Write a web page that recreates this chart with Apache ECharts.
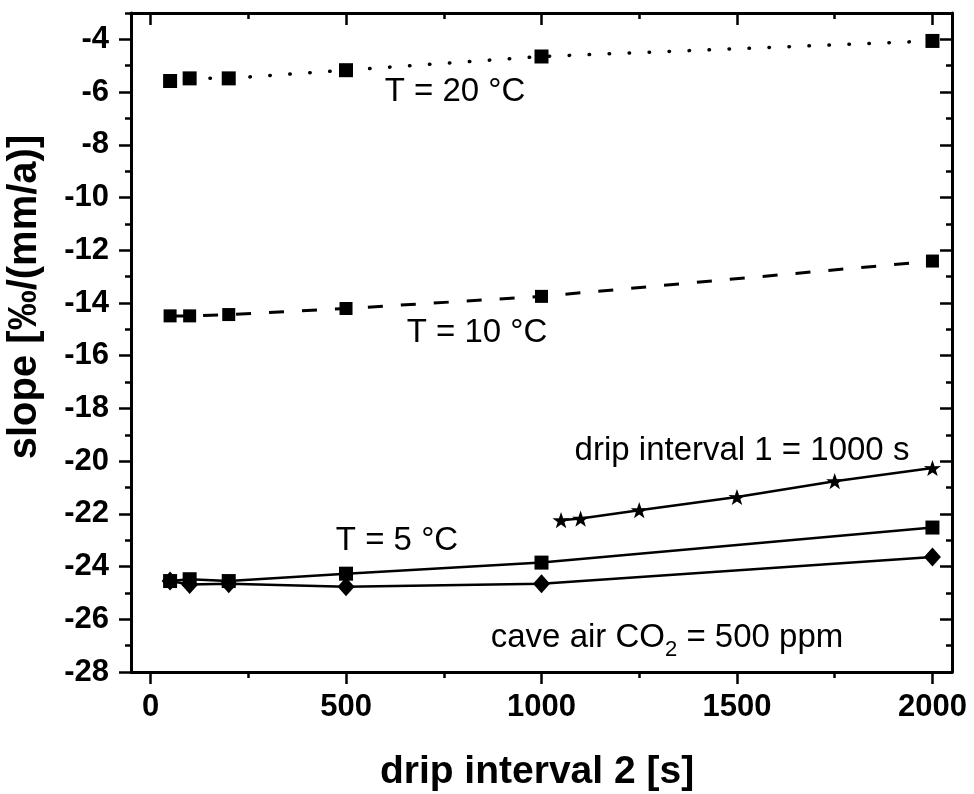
<!DOCTYPE html>
<html>
<head>
<meta charset="utf-8">
<script src="https://cdn.jsdelivr.net/npm/echarts@6/dist/echarts.min.js"></script>
<style>
  html, body { margin: 0; padding: 0; background: #fff; }
  #chart { width: 974px; height: 794px; }
</style>
</head>
<body>
<div id="chart"></div>
<script>
// drip interval 2 [s]
var dripX = [50, 100, 200, 500, 1000, 2000];
var t20 = [-5.58, -5.48, -5.48, -5.17, -4.65, -4.06];
var t10 = [-14.49, -14.49, -14.44, -14.21, -13.75, -12.41];
var t5Square = [-24.55, -24.48, -24.55, -24.27, -23.85, -22.52];
var t5Diamond = [-24.55, -24.68, -24.65, -24.77, -24.65, -23.64];
// drip interval 1 = 1000 s
var starX = [1050, 1100, 1250, 1500, 1750, 2000];
var starY = [-22.24, -22.18, -21.86, -21.36, -20.76, -20.26];

var xTicks = [0, 500, 1000, 1500, 2000];
var xMinor = [0, 250, 500, 750, 1000, 1250, 1500, 1750, 2000];
var yTicks = [-28, -26, -24, -22, -20, -18, -16, -14, -12, -10, -8, -6, -4];
var yMinor = [-28, -27, -26, -25, -24, -23, -22, -21, -20, -19, -18, -17, -16, -15, -14, -13, -12, -11, -10, -9, -8, -7, -6, -5, -4, -3];

var starPath = 'path://M50,0 L61.8,35.1 L97.6,34.5 L69.1,56.7 L79.4,90.5 L50,70.1 L20.6,90.5 L30.9,56.7 L2.4,34.5 L38.2,35.1 Z';
var FONT = 'Liberation Sans, Arial, sans-serif';

function pairs(xs, ys) {
  return xs.map(function (x, i) { return [x, ys[i]]; });
}

function axisX(pos, values, len, inside, main) {
  return {
    type: 'value', position: pos, min: -50, max: 2050,
    axisLine: { show: main, onZero: false, lineStyle: { color: '#000', width: 3 } },
    axisTick: { show: true, inside: inside, length: len, customValues: values, lineStyle: { color: '#000', width: 2.5 } },
    axisLabel: { show: false },
    splitLine: { show: false }
  };
}
function axisY(pos, values, len, inside, main) {
  return {
    type: 'value', position: pos, min: -28, max: -3,
    axisLine: { show: main, onZero: false, lineStyle: { color: '#000', width: 3 } },
    axisTick: { show: true, inside: inside, length: len, customValues: values, lineStyle: { color: '#000', width: 2.5 } },
    axisLabel: { show: false },
    splitLine: { show: false }
  };
}

var xMain = axisX('bottom', xTicks, 12, false, true);
xMain.axisLabel = {
  show: true, customValues: xTicks, color: '#000', fontSize: 31, fontWeight: 'bold', fontFamily: FONT, margin: 20,
  formatter: function (v) { return String(v); }
};

var yMain = axisY('left', yTicks, 12, false, true);
yMain.axisLabel = {
  show: true, customValues: yTicks, color: '#000', fontSize: 31, fontWeight: 'bold', fontFamily: FONT, margin: 22,
  formatter: function (v) { return String(v); }
};

function note(text, x, y) {
  return {
    type: 'text', x: x, y: y, z: 10,
    style: { text: text, fill: '#000', fontSize: 33, fontFamily: FONT, align: 'center', verticalAlign: 'middle' }
  };
}

var lineBase = { type: 'line', xAxisIndex: 0, yAxisIndex: 0, color: '#000', symbolKeepAspect: true };

var option = {
  animation: false,
  backgroundColor: '#fff',
  grid: { left: 131, right: 22, top: 13, bottom: 122, containLabel: false },
  xAxis: [
    xMain,
    axisX('bottom', xMinor, 6, false, false),
    axisX('top', xTicks, 12, true, true),
    axisX('top', xMinor, 6, true, false)
  ],
  yAxis: [
    yMain,
    axisY('left', yMinor, 6, false, false),
    axisY('right', yTicks, 12, true, true),
    axisY('right', yMinor, 6, true, false)
  ],
  series: [
    Object.assign({}, lineBase, {
      name: 'T = 20 °C', data: pairs(dripX, t20), symbol: 'rect', symbolSize: 14,
      itemStyle: { color: '#000' },
      lineStyle: { color: '#000', width: 3.5, type: [0.5, 19.5], cap: 'round' }
    }),
    Object.assign({}, lineBase, {
      name: 'T = 10 °C', data: pairs(dripX, t10), symbol: 'rect', symbolSize: 13,
      itemStyle: { color: '#000' },
      lineStyle: { color: '#000', width: 3, type: [15, 18] }
    }),
    Object.assign({}, lineBase, {
      name: 'T = 5 °C', data: pairs(dripX, t5Square), symbol: 'rect', symbolSize: 14,
      itemStyle: { color: '#000' },
      lineStyle: { color: '#000', width: 2.5 }
    }),
    Object.assign({}, lineBase, {
      name: 'cave air CO2 = 500 ppm', data: pairs(dripX, t5Diamond), symbol: 'diamond', symbolSize: [17, 19],
      itemStyle: { color: '#000' },
      lineStyle: { color: '#000', width: 2.5 }
    }),
    Object.assign({}, lineBase, {
      name: 'drip interval 1 = 1000 s', data: pairs(starX, starY), symbol: starPath, symbolSize: 17,
      itemStyle: { color: '#000' },
      lineStyle: { color: '#000', width: 2.5 }
    })
  ],
  graphic: [
    note('T = 20 °C', 455, 92),
    note('T = 10 °C', 477, 333),
    note('drip interval 1 = 1000 s', 742, 451),
    note('T = 5 °C', 397, 541),
    {
      type: 'text', x: 667, y: 638, z: 10,
      style: {
        text: '{a|cave air CO}{s|2}{a| = 500 ppm}',
        align: 'center', verticalAlign: 'middle',
        rich: {
          a: { fontSize: 33, fontFamily: FONT, fill: '#000', lineHeight: 46, verticalAlign: 'middle' },
          s: { fontSize: 22, fontFamily: FONT, fill: '#000', lineHeight: 46, verticalAlign: 'bottom' }
        }
      }
    },
    {
      type: 'text', x: 537, y: 772, z: 10,
      style: { text: 'drip interval 2 [s]', fill: '#000', fontSize: 39, fontWeight: 'bold', fontFamily: FONT, align: 'center', verticalAlign: 'middle' }
    },
    {
      type: 'text', x: 25, y: 297, z: 10, rotation: Math.PI / 2,
      style: { text: 'slope [‰/(mm/a)]', fill: '#000', fontSize: 40, fontWeight: 'bold', fontFamily: FONT, align: 'center', verticalAlign: 'middle' }
    }
  ]
};

var chart = echarts.init(document.getElementById('chart'), null, { renderer: 'canvas' });
chart.setOption(option);
</script>
</body>
</html>
